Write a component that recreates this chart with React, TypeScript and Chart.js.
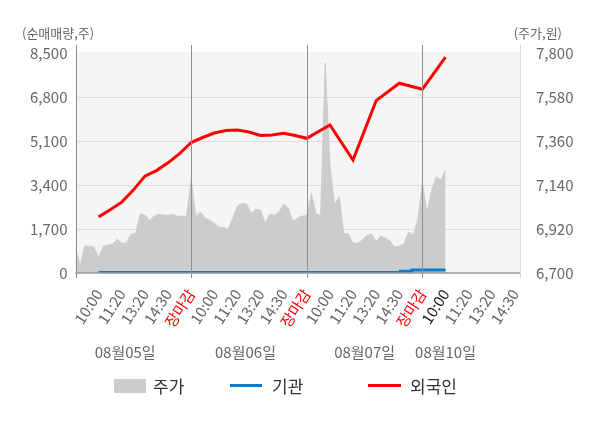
import { useEffect, useRef } from 'react'
import { Chart, registerables } from 'chart.js'

Chart.register(...registerables)

const FONT = '"Noto Sans CJK KR", "Noto Sans", sans-serif'

// x축 라벨 (인덱스 0 = 첫날 장시작)
const xLabels = [
  '', '10:00', '11:20', '13:20', '14:30',
  '장마감', '10:00', '11:20', '13:20', '14:30',
  '장마감', '10:00', '11:20', '13:20', '14:30',
  '장마감', '10:00', '11:20', '13:20', '14:30',
]
const dateLabels = ['08월05일', '08월06일', '08월07일', '08월10일']
const dateSlots = [2.15, 7.35, 12.5, 16]
const daySlots = [5, 10, 15]
const currentSlot = 16

// 주가 (0.2 구간 간격)
const priceStep = 0.2
const priceValues = [
  6829, 6734, 6834, 6834, 6829, 6774, 6834, 6839, 6844, 6869,
  6849, 6849, 6894, 6899, 6994, 6989, 6964, 6984, 6994, 6989,
  6989, 6994, 6984, 6984, 6984,
  7165, 6981, 7004, 6974, 6964, 6949, 6930, 6927, 6919, 6974,
  7034, 7049, 7044, 6999, 7019, 7014, 6949, 6994, 6989, 7004,
  7044, 7024, 6959, 6974, 6984,
  6989, 7099, 6994, 6989, 7750, 7240, 7039, 7084, 6899, 6894,
  6849, 6849, 6864, 6889, 6894, 6859, 6884, 6874, 6859, 6829,
  6834, 6844, 6904, 6889, 6964,
  7150, 6999, 7114, 7180, 7165, 7215,
]

// 외국인 순매매량
const foreignTimes = [1, 1.5, 2, 2.5, 3, 3.5, 4, 4.5, 5, 5.5, 6, 6.5, 7, 7.5, 8, 8.5, 9, 9.5, 10, 11, 12, 13, 14, 15, 16]
const foreignValues = [2168, 2440, 2737, 3202, 3744, 3957, 4255, 4615, 5041, 5235, 5409, 5506, 5525, 5448, 5312, 5332, 5397, 5312, 5204, 5719, 4364, 6660, 7334, 7101, 8340]

// 기관 순매매량
const instTimes = [1, 14.05, 14.55, 16]
const instValues = [15, 65, 120, 120]

const decorPlugin = {
  id: 'decor',
  beforeDraw(chart: any) {
    const { ctx, chartArea: a } = chart
    ctx.save()
    ctx.fillStyle = '#f5f5f5'
    ctx.fillRect(a.left, a.top - 1, a.right - a.left, a.bottom - a.top + 1)
    ctx.restore()
  },
  afterDatasetsDraw(chart: any) {
    const { ctx, chartArea: a, scales } = chart
    const line = (x1: number, y1: number, x2: number, y2: number) => {
      ctx.beginPath()
      ctx.moveTo(x1, y1)
      ctx.lineTo(x2, y2)
      ctx.stroke()
    }
    ctx.save()
    ctx.lineWidth = 1
    ctx.strokeStyle = '#d8d8d8'
    line(Math.round(a.right) + 0.5, a.top - 8, Math.round(a.right) + 0.5, a.bottom + 5)
    ctx.strokeStyle = '#8f8f8f'
    for (const s of [0, ...daySlots]) {
      const px = Math.round(scales.x.getPixelForValue(s)) + 0.5
      line(px, a.top - 8, px, a.bottom + 5)
    }
    ctx.strokeStyle = '#999999'
    ctx.lineWidth = 1.5
    line(a.left, a.bottom, a.right, a.bottom)
    ctx.restore()
  },
  afterDraw(chart: any) {
    const { ctx, scales } = chart
    ctx.save()
    ctx.fillStyle = '#666666'
    ctx.textBaseline = 'middle'
    ctx.font = `15px ${FONT}`
    ctx.textAlign = 'center'
    dateLabels.forEach((d, i) => {
      ctx.fillText(d, scales.x.getPixelForValue(dateSlots[i]), 352)
    })
    ctx.font = `13px ${FONT}`
    ctx.textAlign = 'left'
    ctx.fillText('(순매매량,주)', 22, 33)
    ctx.textAlign = 'right'
    ctx.fillText('(주가,원)', 562, 33)
    ctx.restore()
  },
}

function ForeignChart() {
  const chartRef = useRef<HTMLCanvasElement>(null)
  const chartInstance = useRef<Chart | null>(null)

  useEffect(() => {
    if (!chartRef.current) return
    if (chartInstance.current) chartInstance.current.destroy()

    const ctx = chartRef.current.getContext('2d')
    if (!ctx) return

    chartInstance.current = new Chart(ctx, {
      type: 'line',
      data: {
        datasets: [
          {
            label: '외국인',
            data: foreignTimes.map((t, i) => ({ x: t, y: foreignValues[i] })),
            yAxisID: 'y',
            borderColor: '#ff0000',
            borderWidth: 3,
            pointRadius: 0,
            tension: 0,
            order: 1,
          },
          {
            label: '기관',
            data: instTimes.map((t, i) => ({ x: t, y: instValues[i] })),
            yAxisID: 'y',
            borderColor: '#0a7bcd',
            borderWidth: 3,
            pointRadius: 0,
            stepped: true,
            order: 2,
          },
          {
            label: '주가',
            data: priceValues.map((v, i) => ({ x: i * priceStep, y: v })),
            yAxisID: 'y1',
            borderColor: '#cccccc',
            borderWidth: 1,
            backgroundColor: '#cccccc',
            fill: 'start',
            pointRadius: 0,
            tension: 0,
            order: 3,
          },
        ],
      },
      options: {
        responsive: false,
        animation: false,
        layout: { padding: { top: 53, left: 0, right: 0, bottom: 0 } },
        plugins: {
          legend: { display: false },
          tooltip: { enabled: false },
        },
        scales: {
          x: {
            type: 'linear',
            min: 0,
            max: 19.22,
            afterBuildTicks: (scale: any) => {
              scale.ticks = xLabels.map((_, i) => ({ value: i }))
            },
            afterFit: (scale: any) => {
              scale.height = 155
            },
            grid: { display: false },
            border: { display: false },
            ticks: {
              autoSkip: false,
              minRotation: 57,
              maxRotation: 57,
              padding: 5,
              font: { family: FONT, size: 15 },
              color: (c: any) => {
                const v = c.tick?.value
                if (xLabels[v] === '장마감') return '#ff0000'
                if (v === currentSlot) return '#222222'
                return '#666666'
              },
              callback: (v: any) => xLabels[v] ?? '',
            },
          },
          y: {
            position: 'left',
            min: 0,
            max: 8500,
            afterFit: (scale: any) => {
              scale.width = 75.5
            },
            border: { display: false },
            grid: {
              drawTicks: false,
              color: (c: any) => (c.tick?.value === 8500 || c.tick?.value === 0 ? 'rgba(0,0,0,0)' : '#dddddd'),
            },
            ticks: {
              stepSize: 1700,
              padding: 8,
              color: '#666666',
              font: { family: FONT, size: 15 },
              callback: (v: any) => Number(v).toLocaleString('en-US'),
            },
          },
          y1: {
            position: 'right',
            min: 6700,
            max: 7800,
            afterFit: (scale: any) => {
              scale.width = 80
            },
            border: { display: false },
            grid: { display: false },
            ticks: {
              stepSize: 220,
              padding: 8,
              color: '#666666',
              font: { family: FONT, size: 15 },
              callback: (v: any) => Number(v).toLocaleString('en-US'),
            },
          },
        },
      },
      plugins: [decorPlugin],
    })

    return () => {
      if (chartInstance.current) {
        chartInstance.current.destroy()
        chartInstance.current = null
      }
    }
  }, [])

  return <canvas ref={chartRef} width={600} height={428} style={{ width: 600, height: 428, display: 'block' }} />
}

const legendText = { position: 'absolute' as const, top: 374, height: 24, lineHeight: '24px', fontSize: 17, color: '#333', fontFamily: FONT }

export default function App() {
  return (
    <div style={{ position: 'absolute', left: 0, top: 0, width: 600, height: 428, background: '#fff' }}>
      <ForeignChart />
      <div style={{ position: 'absolute', left: 114, top: 379, width: 32, height: 14, background: '#cccccc' }} />
      <div style={{ ...legendText, left: 153 }}>주가</div>
      <div style={{ position: 'absolute', left: 230, top: 384, width: 32, height: 3, background: '#0a7bcd' }} />
      <div style={{ ...legendText, left: 272 }}>기관</div>
      <div style={{ position: 'absolute', left: 368, top: 384, width: 33, height: 3, background: '#ff0000' }} />
      <div style={{ ...legendText, left: 410 }}>외국인</div>
    </div>
  )
}
